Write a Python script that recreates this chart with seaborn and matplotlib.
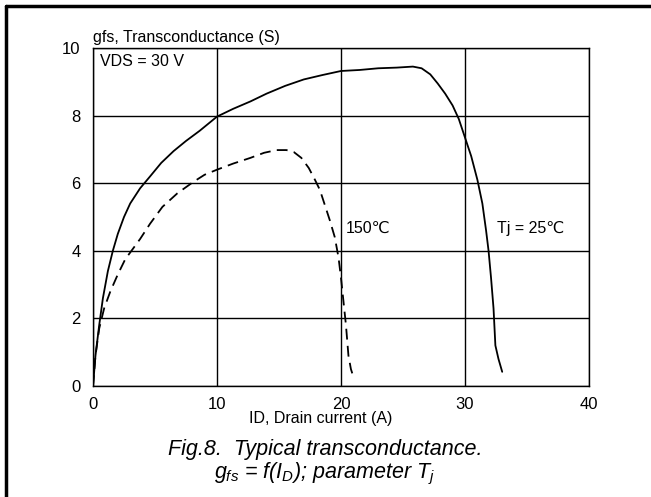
import numpy as np
import pandas as pd
import matplotlib
matplotlib.use('Agg')
import matplotlib.pyplot as plt
import seaborn as sns
from matplotlib.lines import Line2D

# 25 C curve (solid)
id_25 = [0, 0.2, 0.5, 0.8, 1.2, 1.6, 2.0, 2.5, 3.0, 3.8, 4.6, 5.5, 6.5, 7.5, 8.6, 10.0,
         11.3, 12.7, 14.0, 15.5, 17.0, 18.5, 20.0, 21.5, 23.0, 24.5, 25.8, 26.5, 27.2,
         27.8, 28.4, 29.0, 29.5, 30.0, 30.5, 31.0, 31.4, 31.7, 31.9, 32.1, 32.3, 32.45,
         32.7, 33.0]
gfs_25 = [0, 0.9, 1.8, 2.6, 3.4, 4.0, 4.5, 5.0, 5.4, 5.85, 6.2, 6.6, 6.95, 7.25, 7.55, 7.97,
          8.2, 8.42, 8.65, 8.88, 9.07, 9.2, 9.32, 9.35, 9.4, 9.42, 9.45, 9.4, 9.22,
          8.95, 8.65, 8.3, 7.9, 7.35, 6.8, 6.1, 5.4, 4.6, 4.0, 3.2, 2.3, 1.2,
          0.8, 0.42]

# 150 C curve (dashed)
id_150 = [0, 0.2, 0.5, 0.9, 1.4, 2.0, 2.6, 3.2, 3.8, 4.6, 5.6, 6.8, 8.1, 9.0, 10.0, 11.3,
          12.7, 13.8, 14.8, 15.6, 16.2, 16.8, 17.4, 17.9, 18.3, 18.7, 19.1, 19.5, 19.8,
          20.0, 20.2, 20.4, 20.6, 20.8, 21.0]
gfs_150 = [0, 0.9, 1.7, 2.3, 2.8, 3.3, 3.75, 4.05, 4.35, 4.8, 5.3, 5.7, 6.04, 6.25, 6.4, 6.58,
           6.75, 6.9, 6.98, 6.98, 6.92, 6.75, 6.45, 6.1, 5.8, 5.35, 4.9, 4.4, 3.8,
           3.2, 2.5, 1.8, 0.9, 0.5, 0.27]

x_ticks = [0, 10, 20, 30, 40]
y_ticks = [0, 2, 4, 6, 8, 10]

sns.set_theme(style='white')
plt.rcParams['font.family'] = ['Liberation Sans', 'DejaVu Sans']
plt.rcParams['text.color'] = 'black'
plt.rcParams['mathtext.fontset'] = 'custom'
plt.rcParams['mathtext.rm'] = 'Liberation Sans:italic'
plt.rcParams['mathtext.it'] = 'Liberation Sans:italic'

fig = plt.figure(figsize=(6.51, 4.97), dpi=100)
ax = fig.add_axes([93 / 651, 1 - 386 / 497, (589 - 93) / 651, (386 - 48) / 497])

d25 = pd.DataFrame({'ID': id_25, 'gfs': gfs_25})
d150 = pd.DataFrame({'ID': id_150, 'gfs': gfs_150})
sns.lineplot(data=d25, x='ID', y='gfs', ax=ax, color='black', lw=1.3, sort=False)
sns.lineplot(data=d150, x='ID', y='gfs', ax=ax, color='black', lw=1.3, sort=False,
             linestyle=(0, (6, 3.5)))

ax.set_xlim(0, 40)
ax.set_ylim(0, 10)
ax.set_xticks(x_ticks)
ax.set_yticks(y_ticks)
ax.grid(True, color='black', lw=1.0)
ax.set_axisbelow(True)
for s in ax.spines.values():
    s.set_color('black')
    s.set_linewidth(1.0)
ax.tick_params(length=0, labelsize=12, colors='black')
ax.tick_params(axis='x', pad=8)
ax.tick_params(axis='y', pad=9)
ax.set_xlabel('')
ax.set_ylabel('')

ax.text(0.0, 10.1, 'gfs, Transconductance (S)', fontsize=11.5, ha='left', va='bottom')
ax.text(0.6, 9.6, 'VDS = 30 V', fontsize=11.5, ha='left', va='center')
ax.text(20.4, 4.65, '150\u2103', fontsize=11.5, ha='left', va='center')
ax.text(32.6, 4.65, 'Tj = 25\u2103', fontsize=11.5, ha='left', va='center')

fig.text(321 / 651, 1 - 419 / 497, 'ID, Drain current (A)', fontsize=11.5,
         ha='center', va='center')
fig.text(325 / 651, 1 - 450 / 497, 'Fig.8.  Typical transconductance.', fontsize=15.5,
         style='italic', ha='center', va='center')
fig.text(325 / 651, 1 - 474 / 497, r'$g_{fs}$ = f($I_D$); parameter $T_j$', fontsize=15.5,
         style='italic', ha='center', va='center')

# outer frame (left and top only)
fig.add_artist(Line2D([5.5 / 651, 5.5 / 651], [0, 1 - 5.5 / 497], color='black', lw=2.5,
                      transform=fig.transFigure))
fig.add_artist(Line2D([5.5 / 651, 1], [1 - 5.5 / 497, 1 - 5.5 / 497], color='black', lw=2.5,
                      transform=fig.transFigure))

fig.savefig('out.png', dpi=100)
